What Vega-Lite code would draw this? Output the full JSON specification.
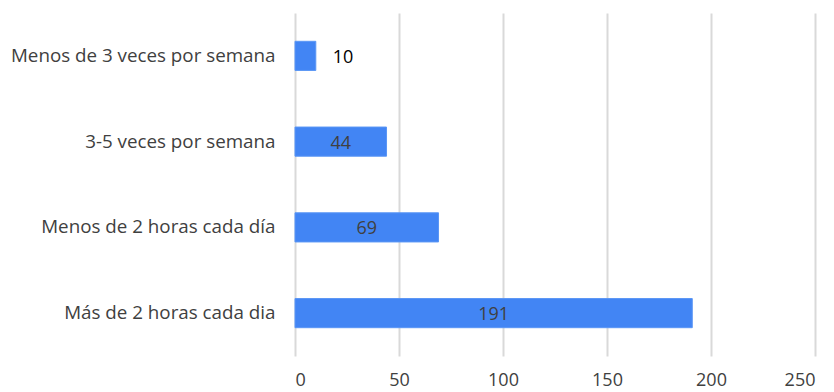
{
  "$schema": "https://vega.github.io/schema/vega-lite/v6.json",
  "width": 520,
  "height": 343,
  "autosize": {"type": "none"},
  "padding": {"left": 295, "top": 13, "right": 19, "bottom": 36},
  "background": "white",
  "config": {"view": {"stroke": null}, "font": "Open Sans"},
  "data": {"values": [
    {"cat": "Menos de 3 veces por semana", "value": 10},
    {"cat": "3-5 veces por semana", "value": 44},
    {"cat": "Menos de 2 horas cada día", "value": 69},
    {"cat": "Más de 2 horas cada dia", "value": 191}
  ]},
  "encoding": {
    "y": {"field": "cat", "type": "nominal", "sort": null,
      "scale": {"paddingInner": 0.66, "paddingOuter": 0.33},
      "axis": {"title": null, "domain": false, "ticks": false, "labelPadding": 20, "labelFontSize": 18.8, "labelColor": "#404040", "labelFont": "Open Sans", "labelLimit": 320}}
  },
  "layer": [
    {
      "mark": {"type": "bar", "color": "#4285F4", "stroke": "#5a96f5", "strokeWidth": 1},
      "encoding": {
        "x": {"field": "value", "type": "quantitative",
          "scale": {"domain": [0, 250], "padding": 0, "nice": false},
          "axis": {"title": null, "values": [0, 50, 100, 150, 200, 250], "domain": false, "ticks": false, "grid": true, "gridColor": "#d9d9d9", "gridWidth": 2, "labelPadding": 15, "labelFontSize": 18, "labelColor": "#404040", "labelFont": "Open Sans"}}
      }
    },
    {
      "transform": [{"filter": "datum.value >= 20"}, {"calculate": "datum.value / 2", "as": "mid"}],
      "mark": {"type": "text", "fontSize": 18, "color": "#404040", "dy": 2, "font": "Open Sans"},
      "encoding": {
        "x": {"field": "mid", "type": "quantitative"},
        "text": {"field": "value", "type": "quantitative"}
      }
    },
    {
      "transform": [{"filter": "datum.value < 20"}],
      "mark": {"type": "text", "fontSize": 18, "color": "#000000", "align": "left", "dx": 17, "dy": 2, "font": "Open Sans"},
      "encoding": {
        "x": {"field": "value", "type": "quantitative"},
        "text": {"field": "value", "type": "quantitative"}
      }
    }
  ]
}
